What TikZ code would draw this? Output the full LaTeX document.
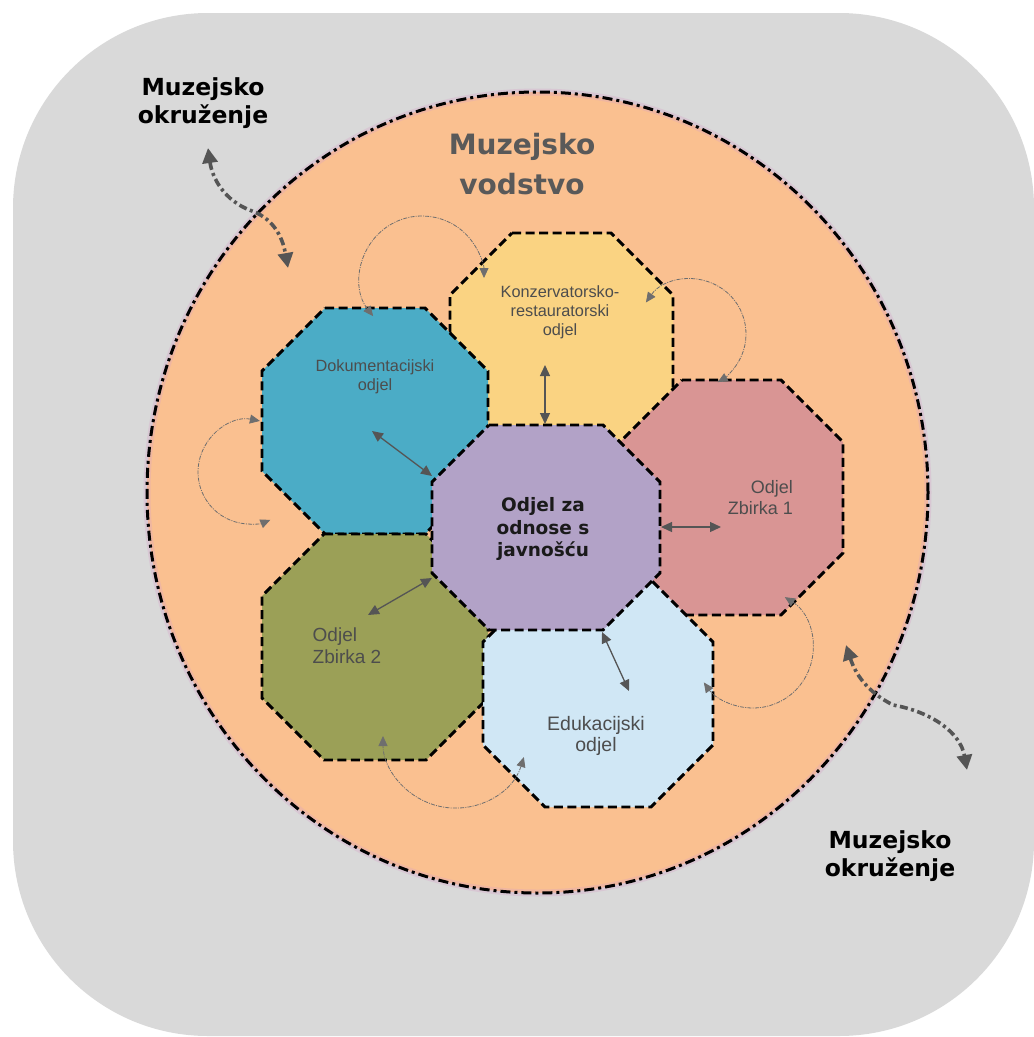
\documentclass[tikz,border=0pt]{standalone}
\usepackage{fontspec}
\setmainfont{Liberation Sans}
\newfontfamily\dvs{DejaVu Sans}
\usetikzlibrary{arrows.meta,calc}
\definecolor{bggray}{HTML}{D9D9D9}
\definecolor{orangefill}{HTML}{FAC090}
\definecolor{glowpink}{HTML}{D8A0C8}
\definecolor{yellowfill}{HTML}{FAD382}
\definecolor{bluefill}{HTML}{4BACC6}
\definecolor{purplefill}{HTML}{B2A2C7}
\definecolor{redfill}{HTML}{D99594}
\definecolor{greenfill}{HTML}{9BA057}
\definecolor{lightbluefill}{HTML}{D0E7F5}
\definecolor{arrowgray}{HTML}{555555}
\definecolor{loopgray}{HTML}{6E6E6E}
\definecolor{labelgray}{HTML}{4D4D4D}
\definecolor{titlegray}{HTML}{595959}
\definecolor{darktext}{HTML}{1A1A1A}
\tikzset{
  octline/.style={draw=black, line width=2.9pt, dash pattern=on 9pt off 4.5pt},
  duplex/.style={draw=arrowgray, line width=1.3pt, {Triangle[length=11pt,width=10pt]}-{Triangle[length=11pt,width=10pt]}},
  loopline/.style={draw=loopgray, line width=0.8pt, dash pattern=on 4pt off 1.2pt on 1pt off 1.2pt, {Triangle[length=10pt,width=9pt]}-{Triangle[length=10pt,width=9pt]}},
  envline/.style={draw=arrowgray, line width=3.6pt, dash pattern=on 8pt off 3.5pt on 3pt off 3.5pt, {Triangle[length=15pt,width=15pt]}-{Triangle[length=15pt,width=15pt]}},
  lbl/.style={align=center, text=labelgray, inner sep=0pt},
  envlabel/.style={align=center, text=black, inner sep=0pt, font=\dvs\bfseries\fontsize{23.5}{27.5}\selectfont},
}
\newcommand\drawoct[6]{%
  \filldraw[octline, fill=#6] ({#1+#5},{-#2}) -- ({#3-#5},{-#2}) -- ({#3},{-#2-#5}) -- ({#3},{-#4+#5}) -- ({#3-#5},{-#4}) -- ({#1+#5},{-#4}) -- ({#1},{-#4+#5}) -- ({#1},{-#2-#5}) -- cycle;}
\begin{document}
\begin{tikzpicture}[x=1pt,y=1pt]
\useasboundingbox (0,0) rectangle (1034,-1037);
% background
\fill[bggray, rounded corners=195pt] (13,-13) rectangle (1034,-1036);
% management circle
\fill[orangefill] (537.5,-492.5) ellipse [x radius=390.5, y radius=400.5];
\draw[glowpink, line width=7pt, opacity=.3] (537.5,-492.5) ellipse [x radius=390.5, y radius=400.5];
\draw[black, line width=3pt, dash pattern=on 10pt off 4pt on 3pt off 4pt] (537.5,-492.5) ellipse [x radius=390.5, y radius=400.5];
% titles
\node[align=center, inner sep=0pt, text=titlegray, font=\dvs\bfseries\fontsize{28}{40}\selectfont] (vodstvo) at (522,-164.5) {Muzejsko\\vodstvo};
\node[envlabel] (envtl) at (203,-103) {Muzejsko\\okruženje};
\node[envlabel] (envbr) at (890,-856) {Muzejsko\\okruženje};
% environment arrows
\coordinate (ea1) at (208,-148);
\coordinate (ea2) at (252,-211);
\coordinate (ea3) at (288,-268);
\draw[envline] (ea1) to[out=-82, in=160] (ea2) to[out=-20, in=100] (ea3);
\coordinate (eb1) at (846,-645);
\coordinate (eb2) at (893,-705);
\coordinate (eb3) at (967,-770);
\draw[envline] (eb1) to[out=-72, in=153] (eb2) to[out=-10, in=100] (eb3);
% octagons
\drawoct{450}{233}{673}{456}{62}{yellowfill}
\drawoct{620}{380}{843}{615}{62}{redfill}
\drawoct{262}{308}{488}{534}{63}{bluefill}
\drawoct{262}{534}{488}{760}{62}{greenfill}
\drawoct{483}{580}{713}{807}{62}{lightbluefill}
\drawoct{432}{425}{660}{630}{57}{purplefill}
% labels
\node[lbl, font=\fontsize{16.3}{19}\selectfont] (konz) at (560,-312) {Konzervatorsko-\\restauratorski\\odjel};
\node[lbl, font=\fontsize{16.3}{19}\selectfont] (dok) at (375,-377) {Dokumentacijski\\odjel};
\node[lbl, text=darktext, font=\dvs\bfseries\fontsize{18.5}{22.3}\selectfont] (pr) at (543,-529) {Odjel za\\odnose s\\javnošću};
\node[lbl, align=right, anchor=east, font=\fontsize{18}{21}\selectfont] (zb1) at (793,-498) {Odjel\\Zbirka 1};
\node[lbl, align=left, anchor=west, font=\fontsize{19}{22.3}\selectfont] (zb2) at (312.5,-646) {Odjel\\Zbirka 2};
\node[lbl, font=\fontsize{19.5}{21}\selectfont] (edu) at (596,-736) {Edukacijski\\odjel};
% straight two-way links
\coordinate (ys1) at (545,-365); \coordinate (ys2) at (545,-424);
\draw[duplex] (ys1) -- (ys2);
\coordinate (bp1) at (372,-431); \coordinate (bp2) at (432,-476);
\draw[duplex] (bp1) -- (bp2);
\coordinate (rp1) at (661,-527); \coordinate (rp2) at (721,-527);
\draw[duplex] (rp1) -- (rp2);
\coordinate (gp1) at (368,-615); \coordinate (gp2) at (432,-578);
\draw[duplex] (gp1) -- (gp2);
\coordinate (lp1) at (602,-632); \coordinate (lp2) at (629,-691);
\draw[duplex] (lp1) -- (lp2);
% loops between neighbouring departments
\coordinate (la) at ($(422,-278)+(-142:62)$);
\draw[loopline] (la) arc[start angle=-142, end angle=-360, radius=62];
\coordinate (lb) at ($(691,-334)+(-215:55)$);
\draw[loopline] (lb) arc[start angle=-215, end angle=-421, radius=55];
\coordinate (lc) at ($(753,-648)+(-302:60)$);
\draw[loopline] (lc) arc[start angle=-302, end angle=-505, radius=60];
\coordinate (ld) at ($(455,-736)+(-17:72)$);
\draw[loopline] (ld) arc[start angle=-17, end angle=-180, radius=72];
\coordinate (le) at ($(250,-472)+(-281:52)$);
\draw[loopline] (le) arc[start angle=-281, end angle=-67, radius=52];
\end{tikzpicture}
\end{document}
